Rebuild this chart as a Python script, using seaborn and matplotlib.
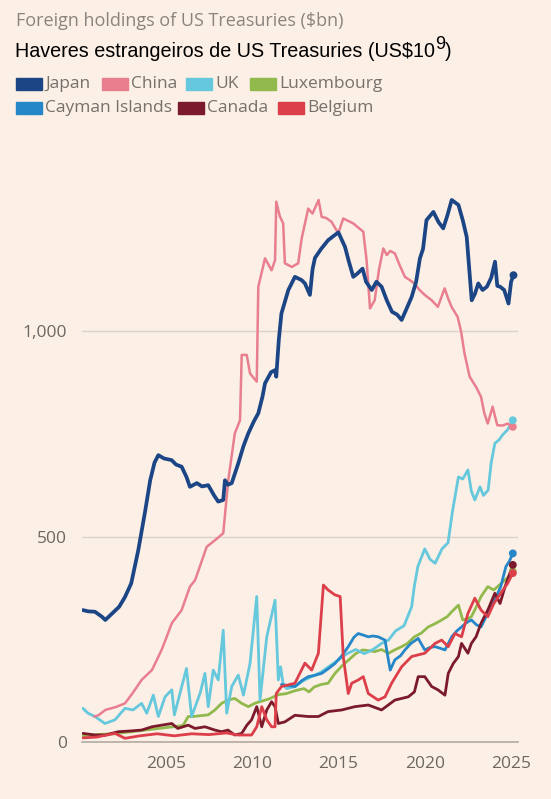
import matplotlib
matplotlib.use("Agg")
import matplotlib.pyplot as plt
import seaborn as sns
import pandas as pd
from matplotlib.patches import Rectangle

# series ($bn), x as fractional year
names = ["Japan", "China", "UK", "Luxembourg", "Cayman Islands", "Canada", "Belgium"]
colors = ["#1b4585", "#e97f8e", "#65c8dc", "#92b94c", "#2587c8", "#7a1a2a", "#dd3f4a"]

japan_year = [2000.2, 2000.5, 2000.9, 2001.3, 2001.5, 2001.9, 2002.3, 2002.64, 2003.0, 2003.41,
              2003.8, 2004.1, 2004.35, 2004.57, 2004.9, 2005.34, 2005.6, 2005.92, 2006.2, 2006.4,
              2006.8, 2007.1, 2007.46, 2007.8, 2008.04, 2008.33, 2008.43, 2008.6, 2008.82, 2009.2,
              2009.5, 2009.78, 2010.1, 2010.36, 2010.6, 2010.75, 2011.1, 2011.33, 2011.4, 2011.55,
              2011.7, 2012.1, 2012.48, 2012.87, 2013.06, 2013.35, 2013.5, 2013.64, 2014.0, 2014.4,
              2014.8, 2015.0, 2015.38, 2015.6, 2015.86, 2016.1, 2016.4, 2016.6, 2016.93, 2017.2,
              2017.5, 2017.8, 2018.1, 2018.4, 2018.66, 2018.9, 2019.24, 2019.5, 2019.72, 2019.9,
              2020.1, 2020.5, 2020.8, 2021.07, 2021.3, 2021.56, 2021.95, 2022.2, 2022.43, 2022.72,
              2022.9, 2023.1, 2023.35, 2023.6, 2023.85, 2024.07, 2024.2, 2024.36, 2024.6, 2024.85,
              2025.0, 2025.14]
japan_bn = [321, 318, 317, 305, 297, 313, 329, 353, 386, 467,
            560, 637, 680, 698, 690, 686, 675, 670, 645, 621,
            630, 622, 625, 600, 585, 589, 637, 626, 630, 678,
            720, 751, 780, 800, 840, 873, 900, 905, 889, 980,
            1043, 1100, 1132, 1124, 1116, 1088, 1150, 1178, 1200, 1221,
            1234, 1240, 1205, 1170, 1132, 1140, 1152, 1120, 1100, 1120,
            1108, 1075, 1047, 1040, 1027, 1050, 1083, 1120, 1177, 1200,
            1270, 1290, 1265, 1250, 1280, 1319, 1307, 1270, 1229, 1075,
            1090, 1116, 1100, 1108, 1130, 1169, 1110, 1108, 1100, 1067,
            1120, 1136]

china_year = [2000.85, 2001.1, 2001.5, 2002.1, 2002.64, 2003.1, 2003.6, 2004.2, 2004.76, 2005.0,
              2005.35, 2005.92, 2006.4, 2006.7, 2007.0, 2007.37, 2007.85, 2008.33, 2008.62, 2009.0,
              2009.3, 2009.4, 2009.69, 2009.88, 2010.27, 2010.36, 2010.75, 2011.13, 2011.33, 2011.4,
              2011.6, 2011.8, 2011.9, 2012.3, 2012.67, 2012.87, 2013.25, 2013.5, 2013.85, 2014.03,
              2014.3, 2014.6, 2014.99, 2015.28, 2015.86, 2016.2, 2016.44, 2016.63, 2016.83, 2017.1,
              2017.35, 2017.6, 2017.8, 2018.0, 2018.27, 2018.55, 2018.85, 2019.1, 2019.4, 2019.7,
              2020.0, 2020.4, 2020.76, 2021.15, 2021.35, 2021.55, 2021.9, 2022.1, 2022.3, 2022.6,
              2022.97, 2023.26, 2023.45, 2023.65, 2023.93, 2024.2, 2024.5, 2024.8, 2025.1]
china_bn = [62, 65, 78, 85, 94, 120, 151, 175, 224, 250,
            289, 321, 378, 394, 430, 475, 491, 508, 637, 751,
            783, 942, 942, 897, 877, 1108, 1177, 1148, 1173, 1315,
            1280, 1262, 1165, 1156, 1165, 1225, 1298, 1286, 1319, 1278,
            1275, 1266, 1238, 1274, 1262, 1250, 1242, 1173, 1055, 1075,
            1150, 1201, 1185, 1195, 1189, 1160, 1132, 1125, 1116, 1100,
            1088, 1075, 1059, 1104, 1080, 1059, 1035, 1000, 946, 889,
            864, 840, 800, 775, 816, 771, 770, 775, 767]

uk_year = [2000.2, 2000.5, 2000.9, 2001.48, 2002.06, 2002.64, 2003.1, 2003.6, 2003.9, 2004.28,
           2004.57, 2004.96, 2005.35, 2005.5, 2006.2, 2006.5, 2007.0, 2007.27, 2007.46, 2007.75,
           2008.04, 2008.33, 2008.53, 2008.82, 2009.2, 2009.5, 2009.88, 2010.27, 2010.46, 2010.85,
           2011.33, 2011.52, 2011.65, 2011.8, 2012.0, 2012.5, 2013.0, 2013.5, 2014.0, 2014.5,
           2015.0, 2015.5, 2016.0, 2016.5, 2017.0, 2017.5, 2017.9, 2018.3, 2018.8, 2019.24,
           2019.4, 2019.6, 2020.0, 2020.3, 2020.6, 2021.0, 2021.35, 2021.6, 2021.95, 2022.2,
           2022.5, 2022.7, 2022.9, 2023.2, 2023.4, 2023.67, 2023.85, 2024.06, 2024.3, 2024.5,
           2024.8, 2025.1]
uk_bn = [82, 70, 62, 45, 54, 82, 78, 94, 70, 114,
         62, 110, 127, 66, 179, 62, 120, 167, 86, 175,
         151, 272, 70, 135, 163, 114, 191, 354, 102, 256,
         345, 151, 183, 140, 130, 135, 150, 160, 170, 185,
         200, 215, 225, 215, 225, 240, 248, 270, 283, 329,
         380, 427, 470, 445, 435, 470, 485, 560, 645, 640,
         662, 610, 589, 621, 600, 613, 680, 727, 735, 747,
         760, 783]

lux_year = [2000.2, 2001.0, 2002.0, 2003.0, 2004.0, 2005.0, 2006.0, 2006.3, 2006.6, 2007.0,
            2007.46, 2007.85, 2008.23, 2008.6, 2009.0, 2009.4, 2009.78, 2010.2, 2010.6, 2011.0,
            2011.5, 2012.0, 2012.5, 2013.0, 2013.3, 2013.6, 2014.0, 2014.4, 2014.8, 2015.2,
            2015.6, 2016.0, 2016.4, 2016.8, 2017.1, 2017.5, 2017.9, 2018.3, 2018.66, 2019.0,
            2019.4, 2019.8, 2020.2, 2020.6, 2020.98, 2021.3, 2021.56, 2021.95, 2022.2, 2022.5,
            2022.7, 2023.0, 2023.26, 2023.65, 2024.0, 2024.4, 2024.8, 2025.1]
lux_bn = [15, 18, 20, 25, 30, 35, 40, 62, 62, 64,
          66, 78, 94, 102, 106, 94, 86, 95, 100, 105,
          115, 118, 125, 130, 122, 134, 140, 143, 167, 185,
          200, 215, 224, 222, 220, 225, 216, 225, 232, 240,
          256, 265, 280, 288, 297, 305, 317, 333, 297, 300,
          305, 330, 354, 378, 370, 385, 400, 415]

cayman_year = [2011.7, 2012.0, 2012.48, 2012.9, 2013.25, 2013.6, 2014.03, 2014.4, 2014.8, 2015.2,
               2015.57, 2015.9, 2016.15, 2016.45, 2016.73, 2017.0, 2017.3, 2017.7, 2017.85, 2018.0,
               2018.27, 2018.6, 2018.85, 2019.2, 2019.62, 2020.0, 2020.3, 2020.6, 2020.9, 2021.17,
               2021.56, 2021.85, 2022.13, 2022.4, 2022.7, 2023.0, 2023.26, 2023.55, 2023.84, 2024.1,
               2024.4, 2024.7, 2024.9, 2025.1]
cayman_bn = [140, 138, 135, 150, 159, 162, 167, 178, 191, 210,
             232, 255, 264, 260, 256, 258, 256, 248, 210, 175,
             200, 210, 224, 240, 252, 224, 230, 232, 228, 224,
             256, 270, 280, 290, 297, 285, 280, 305, 329, 350,
             378, 427, 440, 459]

canada_year = [2000.2, 2000.9, 2001.5, 2002.25, 2003.0, 2003.6, 2004.2, 2004.76, 2005.35, 2005.7,
               2006.3, 2006.7, 2007.27, 2007.85, 2008.23, 2008.6, 2009.0, 2009.4, 2009.7, 2009.97,
               2010.27, 2010.56, 2010.85, 2011.13, 2011.33, 2011.52, 2011.9, 2012.48, 2013.25, 2013.84,
               2014.4, 2015.2, 2015.95, 2016.73, 2017.5, 2018.27, 2019.05, 2019.4, 2019.62, 2020.0,
               2020.4, 2020.76, 2021.17, 2021.36, 2021.65, 2021.95, 2022.13, 2022.5, 2022.7, 2022.97,
               2023.26, 2023.65, 2024.06, 2024.36, 2024.65, 2025.1]
canada_bn = [21, 17, 17, 25, 27, 29, 37, 41, 45, 33,
             41, 33, 37, 29, 25, 29, 17, 21, 41, 54,
             86, 37, 78, 98, 86, 45, 49, 65, 62, 62,
             74, 78, 86, 90, 78, 102, 110, 122, 159, 159,
             135, 127, 114, 167, 191, 208, 240, 216, 240, 256,
             289, 321, 362, 337, 378, 431]

belgium_year = [2000.2, 2001.0, 2002.06, 2002.64, 2003.5, 2004.5, 2005.5, 2006.5, 2007.5, 2008.5,
                2009.2, 2009.97, 2010.27, 2010.56, 2010.85, 2011.13, 2011.33, 2011.4, 2011.7, 2012.48,
                2013.06, 2013.45, 2013.84, 2014.13, 2014.4, 2014.8, 2015.1, 2015.28, 2015.57, 2015.77,
                2016.15, 2016.44, 2016.73, 2017.3, 2017.7, 2018.08, 2018.66, 2019.24, 2020.0, 2020.6,
                2020.98, 2021.36, 2021.75, 2022.13, 2022.5, 2022.9, 2023.26, 2023.65, 2024.0, 2024.4,
                2024.8, 2025.1]
belgium_bn = [10, 12, 21, 9, 15, 20, 15, 20, 18, 22,
              17, 17, 37, 86, 54, 37, 37, 118, 135, 143,
              192, 175, 216, 382, 370, 358, 354, 208, 118, 143,
              151, 159, 118, 102, 110, 143, 183, 208, 216, 240,
              248, 232, 264, 256, 313, 350, 321, 305, 337, 362,
              386, 411]

series_year = [japan_year, china_year, uk_year, lux_year, cayman_year, canada_year, belgium_year]
series_bn = [japan_bn, china_bn, uk_bn, lux_bn, cayman_bn, canada_bn, belgium_bn]

frames = []
for name, xs, ys in zip(names, series_year, series_bn):
    frames.append(pd.DataFrame({"year": xs, "bn": ys, "country": name}))
df = pd.concat(frames, ignore_index=True)
pal = dict(zip(names, colors))

bg = "#fbefe6"
sns.set_style("white")
plt.rcParams["font.family"] = ["Open Sans", "DejaVu Sans"]

W, H = 551, 799
fig = plt.figure(figsize=(W / 100, H / 100), dpi=100, facecolor=bg)
ax = fig.add_axes([82 / W, 1 - 742 / H, (518 - 82) / W, (742 - 170) / H])
ax.set_facecolor(bg)

draw_order = ["Luxembourg", "UK", "Cayman Islands", "Canada", "Belgium", "China", "Japan"]
widths = {"Japan": 2.7, "China": 1.8}
for name in draw_order:
    sub = df[df["country"] == name]
    sns.lineplot(data=sub, x="year", y="bn", color=pal[name], lw=widths.get(name, 2.0),
                 estimator=None, sort=False, ax=ax)

ends = df.groupby("country").tail(1)
sns.scatterplot(data=ends, x="year", y="bn", hue="country", palette=pal, s=32,
                linewidth=0, legend=False, ax=ax, zorder=5)

ax.set_xlim(2000.15, 2025.4)
ax.set_ylim(0, 1392)
ax.set_xticks([2005, 2010, 2015, 2020, 2025])
ax.set_yticks([0, 500, 1000])
ax.set_yticklabels(["0", "500", "1,000"])
ax.set_xlabel("")
ax.set_ylabel("")
for side in ["top", "left", "right"]:
    ax.spines[side].set_visible(False)
ax.spines["bottom"].set_color("#b3aaa2")
ax.spines["bottom"].set_linewidth(1.2)
ax.tick_params(axis="x", length=6, width=1, color="#b3aaa2", labelsize=12.5,
               labelcolor="#6d6761", pad=4)
ax.tick_params(axis="y", length=0, labelsize=12.5, labelcolor="#6d6761", pad=11)
ax.yaxis.grid(True, color="#dcd2c9", lw=1)
ax.set_axisbelow(True)

# titles
fig.text(16 / W, 1 - 21 / H, "Foreign holdings of US Treasuries (\\$bn)", fontsize=13,
         color="#8b847e", va="center", ha="left")
sub_y = 1 - 57 / H
t1 = fig.text(15 / W, sub_y, "Haveres estrangeiros de US Treasuries (US\\$10",
              fontsize=14.2, family="Liberation Sans", color="black", va="baseline", ha="left")
fig.canvas.draw()
r = fig.canvas.get_renderer()
x_end = t1.get_window_extent(r).x1 / W
t2 = fig.text(x_end, sub_y + 8 / H, "9", fontsize=13, family="Liberation Sans",
              color="black", va="baseline", ha="left")
fig.canvas.draw()
x_end2 = t2.get_window_extent(r).x1 / W
fig.text(x_end2, sub_y, ")", fontsize=14.2, family="Liberation Sans", color="black",
         va="baseline", ha="left")

# legend swatches
legend_xy = [(16, 84), (102, 84), (186, 84), (250, 84), (16, 108), (178, 108), (278, 108)]
for name, (lx, ly) in zip(names, legend_xy):
    fig.patches.append(Rectangle((lx / W, 1 - (ly + 6) / H), 26 / W, 12 / H,
                                 transform=fig.transFigure, color=pal[name]))
    fig.text((lx + 29) / W, 1 - ly / H, name, fontsize=12.5, color="#77716b",
             va="center", ha="left")

fig.savefig("out.png", dpi=100, facecolor=bg)
